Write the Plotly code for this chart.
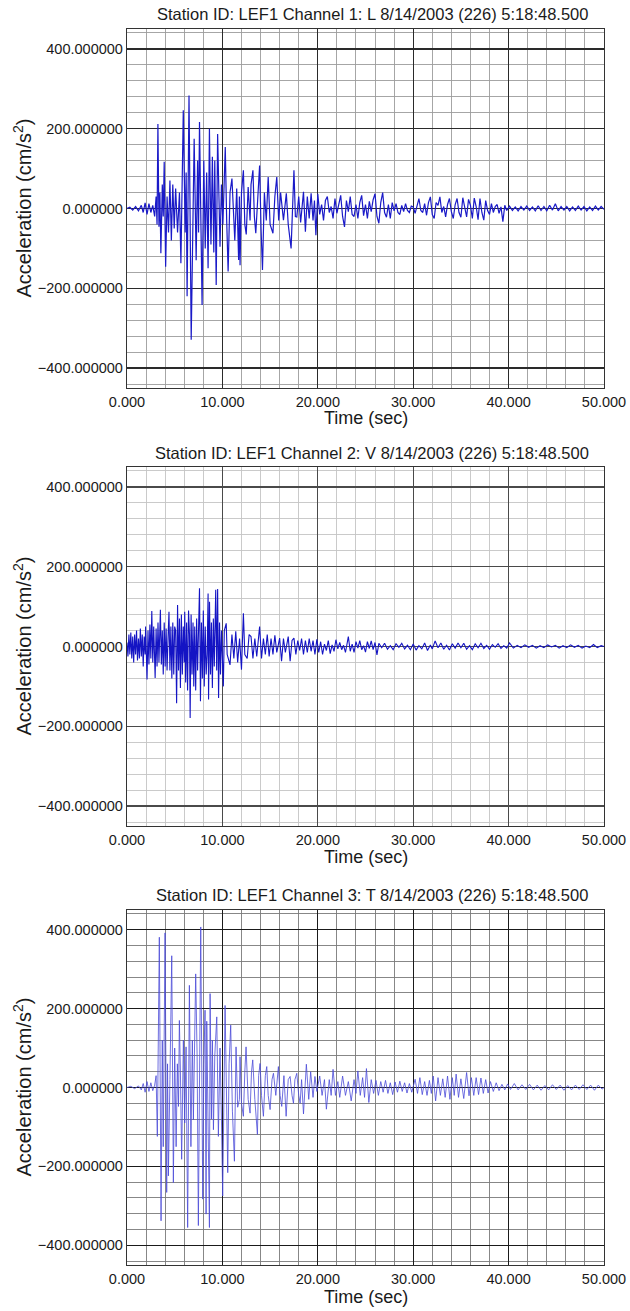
import plotly.graph_objects as go

# ---------------- Channel 1 (L) ----------------
T1 = [0.0, 0.3, 0.6, 0.9, 1.2, 1.5, 1.7, 1.9, 2.1, 2.3,
      2.5, 2.7, 2.9, 3.05, 3.15, 3.24, 3.35, 3.45, 3.55, 3.7,
      3.8, 3.9, 4.05, 4.2, 4.35, 4.5, 4.65, 4.8, 4.95, 5.1,
      5.3, 5.5, 5.65, 5.9, 6.1, 6.2, 6.3, 6.5, 6.73, 6.9,
      7.04, 7.25, 7.4, 7.5, 7.6, 7.87, 8.05, 8.2, 8.35, 8.5,
      8.64, 8.8, 8.95, 9.1, 9.2, 9.35, 9.5, 9.75, 9.9, 10.05,
      10.3, 10.45, 10.6, 10.8, 11.0, 11.3, 11.5, 11.7, 11.78, 11.85,
      12.0, 12.2, 12.35, 12.5, 12.6, 12.7, 12.9, 13.0, 13.2, 13.35,
      13.5, 13.7, 13.9, 14.05, 14.2, 14.4, 14.6, 14.8, 15.0, 15.3,
      15.5, 15.7, 15.9, 16.1, 16.4, 16.7, 16.9, 17.2, 17.35, 17.5,
      17.65, 17.8, 18.0, 18.2, 18.5, 18.7, 18.9, 19.1, 19.3, 19.5,
      19.65, 19.8,
      20.0, 20.2, 20.4, 20.6, 20.8, 21.0, 21.2, 21.4, 21.6, 21.8,
      22.0, 22.2, 22.4, 22.6, 22.8, 23.0, 23.2, 23.4, 23.6, 23.8,
      24.0, 24.2, 24.4, 24.6, 24.8, 25.0, 25.2, 25.4, 25.6, 25.8,
      26.0, 26.2, 26.4, 26.6, 26.8, 27.0, 27.2, 27.4, 27.6, 27.8,
      28.0, 28.2, 28.4, 28.6, 28.8, 29.0, 29.2, 29.4, 29.6, 29.8,
      30.0, 30.2, 30.4, 30.6, 30.8, 31.0, 31.2, 31.4, 31.6, 31.8,
      32.0, 32.2, 32.4, 32.6, 32.8, 33.0, 33.2, 33.4, 33.6, 33.8,
      34.0, 34.2, 34.4, 34.6, 34.8, 35.0, 35.2, 35.4, 35.6, 35.8,
      36.0, 36.2, 36.4, 36.6, 36.8, 37.0, 37.2, 37.4, 37.6, 37.8,
      38.0, 38.2, 38.4, 38.6, 38.8, 39.0, 39.2, 39.4, 39.6, 39.8,
      40.1, 40.4, 40.7, 41.0, 41.3, 41.6, 41.9, 42.2, 42.5, 42.8,
      43.1, 43.4, 43.7, 44.0, 44.3, 44.6, 44.9, 45.2, 45.5, 45.8,
      46.1, 46.4, 46.7, 47.0, 47.3, 47.6, 47.9, 48.2, 48.5, 48.8,
      49.1, 49.4, 49.7, 50.0]
A1 = [0, 3, -4, 5, -6, 8, -10, 14, -15, 12,
      -10, 8, -20, 30, -40, 212, -46, 40, -112, 60,
      -20, 117, -146, 30, -60, 70, -80, 60, -50, 50,
      -60, 40, -137, 246, -60, 90, -220, 283, -329, -40,
      175, -130, 120, -60, 217, -242, 120, -100, 90, -150,
      200, -90, 130, -110, 120, -192, 187, -96, 60, -40,
      154, -30, -158, 40, 75, -80, 50, -129, 30, -142,
      40, 96, -40, -65, 30, 54, -30, 60, 96, -20,
      -62, 40, 108, -50, -154, 40, -30, 79, -40, -62,
      30, 79, -30, 40, -29, 38, -40, -100, 20, 96,
      -20, -21, 30, -35, 42, -58, 30, -25, 38, -30,
      20, -67,
      37, -15, 10, -30, 20, 30, -10, 5, -25, 25,
      -12, 8, 33, -20, -46, 20, -8, 30, -15, -20,
      10, -25, 15, 33, -18, 10, -25, 18, -8, 22,
      37, -20, -37, 15, 40, -10, -22, 10, -25, 15,
      -6, 12, -10, -15, 8, -8, 12, -5, -10, 6,
      4, -12, 8, 25, -5, -10, 12, -17, 15, 29,
      -15, -25, 15, 8, 29, -10, 5, -21, 10, 25,
      -8, -25, 10, 25, -10, -22, 27, 5, -21, 23,
      8, -25, 26, 5, -28, 25, -10, -29, 20, -5,
      -15, 12, -10, 5, 10, -12, 4, -33, 8, -5,
      6, -5, 4, -6, 5, -4, 6, -5, 4, -6,
      7, -5, 5, -6, 8, -4, 12, -6, 5, -4,
      5, -6, 4, -5, 6, -4, 5, -6, 4, -5,
      6, -4, 5, -2]

# ---------------- Channel 2 (V) ----------------
T2 = [0.0, 0.1, 0.2, 0.3, 0.4, 0.5, 0.6, 0.7, 0.8, 0.9,
      1.0, 1.1, 1.2, 1.3, 1.4, 1.5, 1.6, 1.7, 1.8, 1.9,
      1.95, 2.1, 2.2, 2.3, 2.4, 2.5, 2.6, 2.7, 2.8, 2.95,
      3.05, 3.15, 3.25, 3.35, 3.5, 3.6, 3.7, 3.8, 3.9, 4.0,
      4.1, 4.2, 4.3, 4.4, 4.5, 4.6, 4.7, 4.8, 4.9, 5.0,
      5.1, 5.2, 5.3, 5.4, 5.5, 5.6, 5.7, 5.8, 5.9, 6.0,
      6.05, 6.15, 6.25, 6.35, 6.45, 6.55, 6.62, 6.72, 6.82, 6.92,
      7.0, 7.1, 7.2, 7.3, 7.4, 7.5, 7.6, 7.7, 7.8, 7.9,
      8.0, 8.1, 8.2, 8.3, 8.4, 8.5, 8.55, 8.65, 8.75, 8.85,
      8.95, 9.05, 9.15, 9.3, 9.4, 9.5, 9.6, 9.7, 9.8, 9.9,
      10.1, 10.2, 10.4, 10.5, 10.8, 11.0, 11.2, 11.4, 11.6, 11.8,
      12.0, 12.2, 12.35, 12.6, 12.8, 13.0, 13.2, 13.4, 13.6, 13.9,
      14.1, 14.3, 14.5, 14.7, 14.9, 15.1, 15.3, 15.5, 15.7, 16.0,
      16.2, 16.4, 16.6, 16.9, 17.1, 17.3, 17.5, 17.7, 17.9, 18.1,
      18.3, 18.5, 18.7, 18.9, 19.1, 19.3, 19.5, 19.7, 19.9, 20.1,
      20.3, 20.5, 20.7, 20.9, 21.1, 21.3, 21.5, 21.7, 21.9, 22.1,
      22.3, 22.5, 22.7, 22.9, 23.2, 23.4, 23.6, 23.8, 24.0, 24.2,
      24.4, 24.6, 24.8, 25.0, 25.2, 25.4, 25.6, 25.8, 26.0, 26.2,
      26.4, 26.7, 27.0, 27.3, 27.6, 27.9, 28.2, 28.5, 28.8, 29.1,
      29.4, 29.7, 30.0, 30.3, 30.6, 30.9, 31.2, 31.5, 31.8, 32.0,
      32.3, 32.6, 32.9, 33.2, 33.5, 33.8, 34.1, 34.4, 34.7, 35.0,
      35.3, 35.6, 35.9, 36.2, 36.5, 36.8, 37.1, 37.4, 37.7, 38.0,
      38.3, 38.6, 38.9, 39.2, 39.5, 39.8, 40.1, 40.5, 40.9, 41.3,
      41.7, 42.1, 42.5, 42.9, 43.3, 43.7, 44.1, 44.5, 44.9, 45.3,
      45.7, 46.1, 46.5, 46.9, 47.3, 47.7, 48.1, 48.5, 48.9, 49.3,
      49.7, 50.0]
A2 = [10, -25, 30, -20, 35, -30, 25, -40, 30, -20,
      40, -35, 20, -30, 45, -25, 30, -50, 25, -20,
      50, -83, 40, -45, 55, -30, 89, -40, 50, -79,
      45, -50, 60, -40, 92, -45, 40, -70, 60, -50,
      45, -60, 20, 87, -60, 50, -80, 60, -70, 50,
      40, -142, 104, -60, 70, -104, 80, -70, 50, -40,
      87, -90, 60, -110, 90, 30, -179, 80, -70, 60,
      -100, 50, -110, 70, -60, 40, 146, -137, 60, -80,
      90, -100, 50, -70, -20, 133, -133, 112, -70, 60,
      -104, 70, -50, 142, -60, 144, -129, 60, -70, 40,
      -100, 40, 58, -20, -46, 30, -30, 38, -40, 20,
      -58, 83, -20, -30, 30, 25, -30, 20, -25, 50,
      -30, 20, -20, 30, -25, 20, -20, 28, -15, 21,
      -37, 20, -15, 25, -37, 15, 21, -20, 15, -10,
      20, -20, 15, -15, 20, -12, 15, -20, 18, -15,
      12, -20, 6, -10, 15, -18, 4, -12, 17, -6,
      10, -8, 3, -15, 25, -12, 6, -15, 12, -4,
      15, -8, 2, -14, 12, -5, 14, -8, 10, -21,
      8, -3, 8, -7, 2, -8, 7, -2, 8, -6,
      3, -8, 6, -9, 2, -6, 9, -10, 4, -6,
      14, -3, 9, -7, 3, -9, 7, -4, 9, -3,
      8, -7, 2, -8, 7, -3, 8, -5, 3, -7,
      5, -2, 7, -5, 2, -4, 9, -4, 3, -3,
      4, -2, 3, -4, 2, -3, 4, -1, 3, -4,
      2, -3, 4, -2, 3, -4, 1, -3, 5, -3,
      2, 0]

# ---------------- Channel 3 (T) ----------------
T3 = [0.0, 0.4, 0.8, 1.2, 1.5, 1.7, 1.9, 2.1, 2.3, 2.5,
      2.7, 2.9, 3.05, 3.18, 3.39, 3.57, 3.7, 3.8, 3.99, 4.16,
      4.25, 4.34, 4.5, 4.69, 4.86, 5.0, 5.15, 5.28, 5.4, 5.49,
      5.6, 5.73, 5.91, 6.05, 6.19, 6.36, 6.54, 6.7, 6.85, 6.96,
      7.2, 7.35, 7.48, 7.73, 7.94, 8.05, 8.18, 8.29, 8.36, 8.5,
      8.64, 8.71, 8.85, 8.95, 9.06, 9.2, 9.41, 9.58, 9.75, 9.9,
      10.03, 10.28, 10.4, 10.56, 10.7, 10.87, 11.05, 11.26, 11.43, 11.6,
      11.78, 11.85, 12.0, 12.2, 12.35, 12.48, 12.7, 12.9, 13.05, 13.18,
      13.4, 13.67, 13.8, 13.95, 14.1, 14.3, 14.5, 14.65, 14.8, 15.0,
      15.2, 15.35, 15.6, 15.87, 16.05, 16.22, 16.45, 16.68, 16.9, 17.1,
      17.3, 17.45, 17.6, 17.8, 18.0, 18.15, 18.3, 18.5, 18.8, 19.05,
      19.25, 19.5, 19.7, 19.9, 20.2, 20.45, 20.7, 20.9, 21.2, 21.4,
      21.6, 21.85, 22.1, 22.3, 22.6, 22.9, 23.2, 23.5, 23.8, 24.0,
      24.2, 24.45, 24.7, 24.9, 25.1, 25.35, 25.6, 25.85, 26.1, 26.35,
      26.6, 26.85, 27.1, 27.35, 27.6, 27.85, 28.1, 28.35, 28.6, 28.85,
      29.1, 29.35, 29.6, 29.85, 30.2, 30.45, 30.7, 30.95, 31.2, 31.45,
      31.7, 31.9, 32.1, 32.35, 32.6, 32.85, 33.1, 33.35, 33.6, 33.85,
      34.1, 34.3, 34.5, 34.75, 35.0, 35.3, 35.6, 35.85, 36.1, 36.35,
      36.6, 36.85, 37.1, 37.35, 37.6, 37.85, 38.1, 38.4, 38.7, 39.0,
      39.3, 39.6, 39.9, 40.2, 40.6, 41.0, 41.4, 41.8, 42.2, 42.6,
      43.0, 43.4, 43.8, 44.2, 44.6, 45.0, 45.4, 45.8, 46.2, 46.6,
      47.0, 47.4, 47.8, 48.2, 48.6, 49.0, 49.4, 49.8, 50.0]
A3 = [0, 3, -3, 4, -6, 10, -12, 15, -10, 12,
      -8, 6, 30, -124, 381, -338, 120, -150, 392, -266,
      60, -224, 20, 334, -241, 100, -150, 60, -48, 170,
      40, -182, 120, -90, 103, -355, 259, -150, 120, -82,
      288, 80, -350, 407, -283, 60, 196, -321, 168, -150,
      -355, 238, -80, 120, -107, 80, 179, -124, 100, -80,
      -275, 208, -40, -216, 60, 158, -60, -187, 103, -50,
      -31, 78, -40, -73, 40, 103, -30, -65, 40, 70,
      -30, -119, 30, 61, -20, -73, 30, 53, -20, -56,
      20, 36, -20, 53, -20, -48, 30, -73, 20, 28,
      -20, -40, 20, 36, -20, -40, 20, -67, 59, -30,
      40, -25, 28, -10, 29, -20, 20, -55, 20, -20,
      46, -20, 15, -25, 29, -20, 15, -34, 20, -15,
      42, -20, 25, -25, 48, -38, 20, -15, 18, -20,
      15, -12, 18, -15, 12, -18, 14, -12, 16, -10,
      12, -14, 10, -12, 21, -15, 25, -18, 15, -20,
      18, -15, 29, -34, 25, -20, 22, -25, 29, -30,
      25, -20, 34, -25, 22, -28, 38, -21, 25, -20,
      25, -18, 24, -15, 20, -14, 15, -10, 12, -8,
      8, -6, 9, -5, 10, -6, 7, -5, 8, -6,
      6, -7, 5, -6, 7, -5, 6, -7, 5, -6,
      6, -5, 7, -5, 6, -7, 6, -4, 0]

TITLES = ["Station ID: LEF1 Channel 1: L 8/14/2003 (226) 5:18:48.500",
          "Station ID: LEF1 Channel 2: V 8/14/2003 (226) 5:18:48.500",
          "Station ID: LEF1 Channel 3: T 8/14/2003 (226) 5:18:48.500"]
X_LABEL = "Time (sec)"
Y_LABEL = "Acceleration (cm/s<sup>2</sup>)"

for t, a in ((T1, A1), (T2, A2), (T3, A3)):
    assert len(t) == len(a), (len(t), len(a))

W, H = 630, 1311
FONT = "Liberation Sans, Arial, Helvetica, sans-serif"
LEFT, RIGHT = 127, 604

panels = [
    dict(t=T1, a=A1, top=29, bot=388, color="#1a1ac8", lw=1.2,
         major="#2a2a2a", minor="#9c9c9c", title_y=14, xlab_y=418),
    dict(t=T2, a=A2, top=467, bot=826, color="#1414c4", lw=1.1,
         major="#4a4a4a", minor="#c4c4c4", title_y=453, xlab_y=857),
    dict(t=T3, a=A3, top=910, bot=1265, color="#4a4ad8", lw=0.8,
         major="#1a1a1a", minor="#7a7a7a", title_y=895, xlab_y=1297),
]

fig = go.Figure()
layout = dict(width=W, height=H,
              margin=dict(l=0, r=0, t=0, b=0, pad=0, autoexpand=False),
              paper_bgcolor="white", plot_bgcolor="white", showlegend=False,
              font=dict(family=FONT, color="#1a1a1a"))
annotations = []

for i, p in enumerate(panels, start=1):
    sfx = "" if i == 1 else str(i)
    fig.add_trace(go.Scatter(x=p["t"], y=p["a"], mode="lines",
                             line=dict(color=p["color"], width=p["lw"]),
                             xaxis="x" + sfx, yaxis="y" + sfx,
                             hoverinfo="skip"))
    ydom = [1 - p["bot"] / H, 1 - p["top"] / H]
    layout["xaxis" + sfx] = dict(
        domain=[LEFT / W, RIGHT / W], range=[0, 50], anchor="y" + sfx,
        tick0=0, dtick=10, tickformat=".3f", automargin=False,
        showgrid=True, gridcolor=p["major"], gridwidth=1.4,
        minor=dict(dtick=2, tick0=0, showgrid=True, gridcolor=p["minor"], gridwidth=0.9),
        showline=True, linecolor="#333333", linewidth=1.2, mirror=True,
        zeroline=False, ticks="", fixedrange=True,
        tickfont=dict(family=FONT, size=14.5, color="#1a1a1a"))
    layout["yaxis" + sfx] = dict(
        domain=ydom, range=[-450, 450], anchor="x" + sfx,
        tick0=0, dtick=200, tickformat=".6f", automargin=False,
        showgrid=True, gridcolor=p["major"], gridwidth=1.4,
        minor=dict(dtick=40, tick0=0, showgrid=True, gridcolor=p["minor"], gridwidth=0.9),
        showline=True, linecolor="#333333", linewidth=1.2, mirror=True,
        zeroline=False, ticks="", fixedrange=True,
        tickfont=dict(family=FONT, size=14.5, color="#1a1a1a"))
    annotations.append(dict(text=TITLES[i - 1], xref="paper", yref="paper",
                            x=372 / W, y=1 - p["title_y"] / H, showarrow=False,
                            xanchor="center", yanchor="middle",
                            font=dict(family=FONT, size=16.5, color="#1a1a1a")))
    annotations.append(dict(text=X_LABEL, xref="paper", yref="paper",
                            x=(LEFT + RIGHT) / 2 / W, y=1 - p["xlab_y"] / H,
                            showarrow=False, xanchor="center", yanchor="middle",
                            font=dict(family=FONT, size=18, color="#1a1a1a")))
    annotations.append(dict(text=Y_LABEL, xref="paper", yref="paper",
                            x=22 / W, y=1 - (p["top"] + p["bot"]) / 2 / H,
                            showarrow=False, textangle=-90,
                            xanchor="center", yanchor="middle",
                            font=dict(family=FONT, size=20, color="#1a1a1a")))

layout["annotations"] = annotations
fig.update_layout(**layout)
fig.write_html("out.html",
               config={"displayModeBar": False, "staticPlot": True},
               post_script="document.documentElement.style.margin='0';"
                           "document.body.style.margin='0';"
                           "document.body.style.padding='0';"
                           "document.body.style.overflow='hidden';")
